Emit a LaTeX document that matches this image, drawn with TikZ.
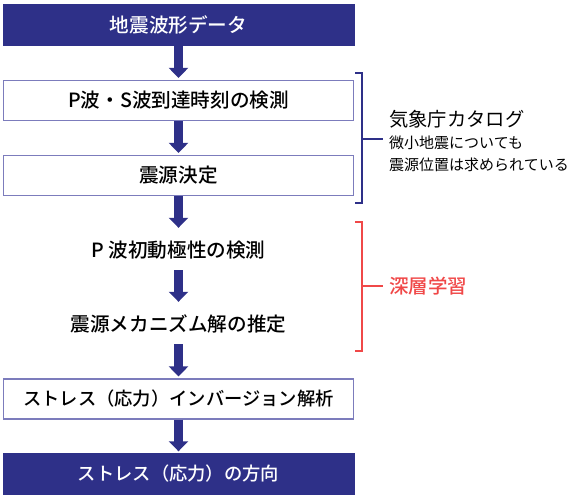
\documentclass[tikz,border=0pt]{standalone}
\usepackage{fontspec}
\setmainfont{Noto Sans CJK JP}
\newfontfamily\medfont{Noto Sans CJK JP Medium}
\usetikzlibrary{arrows.meta}
\definecolor{navy}{HTML}{2E3088}
\definecolor{lav}{HTML}{7C7CBC}
\definecolor{redb}{HTML}{F04848}
\tikzset{
  boxfont/.style={font=\medfont\fontsize{19.6}{21}\selectfont},
  smallbox/.style={font=\medfont\fontsize{18.3}{21}\selectfont},
  darkbox/.style={fill=navy, draw=navy, minimum width=351pt, minimum height=41pt, inner sep=0pt, text=white, boxfont},
  whitebox/.style={fill=white, draw=lav, line width=1.2pt, minimum width=350pt, minimum height=40pt, inner sep=0pt, boxfont},
  plain/.style={minimum height=40pt, inner sep=0pt, boxfont},
  arr/.style={navy, line width=9pt, -{Triangle[width=19pt,length=10pt]}, shorten >=2pt},
  brk/.style={line width=2pt}
}
\begin{document}
\begin{tikzpicture}[x=1pt,y=-1pt]
\useasboundingbox (0,0) rectangle (571,501);
\node[darkbox] (b1) at (178.5,25) {地震波形データ};
\node[whitebox] (b2) at (178.5,100.5) {P波・S波到達時刻の検測};
\node[whitebox] (b3) at (178.5,175.5) {震源決定};
\node[plain] (t1) at (178.5,250) {P 波初動極性の検測};
\node[plain] (t2) at (178.5,324) {震源メカニズム解の推定};
\node[whitebox, smallbox] (b4) at (178.5,399) {ストレス（応力）インバージョン解析};
\node[darkbox, smallbox] (b5) at (178.5,474) {ストレス（応力）の方向};
\draw[arr] (b1.south) -- (b2.north);
\draw[arr] (b2.south) -- (b3.north);
\draw[arr] (b3.south) -- (t1.north);
\draw[arr] (t1.south) -- (t2.north);
\draw[arr] (t2.south) -- (b4.north);
\draw[arr] (b4.south) -- (b5.north);
% blue bracket
\coordinate (bt) at (355,73);
\coordinate (bb) at (355,203);
\coordinate (bm) at (383,139);
\draw[brk, navy] (bt) -- (362,73) -- (362,203) -- (bb);
\draw[brk, navy] (362,139) -- (bm);
\node[anchor=west, inner sep=0pt, font=\fontsize{19.3}{21}\selectfont] (c1) at (389,119) {気象庁カタログ};
\node[anchor=west, inner sep=0pt, font=\fontsize{15}{17}\selectfont] (c2) at (389,143) {微小地震についても};
\node[anchor=west, inner sep=0pt, font=\fontsize{15}{17}\selectfont] (c3) at (389,165) {震源位置は求められている};
% red bracket
\coordinate (rt) at (355,222);
\coordinate (rb) at (355,351);
\coordinate (rm) at (383,286);
\draw[brk, redb] (rt) -- (362,222) -- (362,351) -- (rb);
\draw[brk, redb] (362,286) -- (rm);
\node[anchor=west, inner sep=0pt, text=redb, font=\medfont\fontsize{19.5}{21}\selectfont] (d1) at (389,286) {深層学習};
\end{tikzpicture}
\end{document}
